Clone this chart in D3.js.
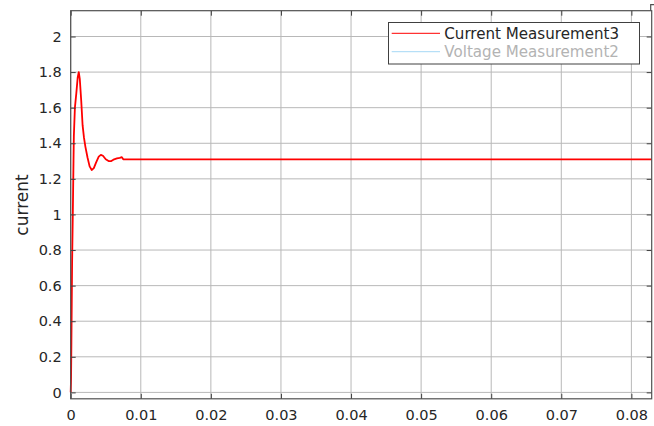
<!DOCTYPE html>
<html><head><meta charset="utf-8">
<script src="https://cdn.jsdelivr.net/npm/d3@7"></script>
<style>
body{margin:0;background:#fff;}
svg{display:block;font-family:"DejaVu Sans",sans-serif;}
</style></head>
<body>
<script>
// time (s) and current values
const timeValues = [0, 0.00005, 0.0001, 0.00015, 0.0002, 0.0003, 0.0004, 0.00045, 0.0006, 0.0008, 0.001, 0.00115, 0.0013, 0.0015, 0.0017, 0.0019, 0.0021, 0.0024, 0.0027, 0.003, 0.0033, 0.0036, 0.004, 0.0043, 0.0046, 0.005, 0.0054, 0.0058, 0.0062, 0.0066, 0.007, 0.0073, 0.0075, 0.0077, 0.0829];
const currentValues = [0, 0.08, 0.28, 0.5, 0.73, 1.0, 1.3, 1.44, 1.6, 1.68, 1.77, 1.8, 1.76, 1.64, 1.5, 1.43, 1.38, 1.32, 1.27, 1.25, 1.26, 1.29, 1.325, 1.335, 1.33, 1.31, 1.30, 1.3, 1.31, 1.315, 1.318, 1.322, 1.31, 1.31, 1.31];
const xTicks = [0, 0.01, 0.02, 0.03, 0.04, 0.05, 0.06, 0.07, 0.08];
const yTicks = [0, 0.2, 0.4, 0.6, 0.8, 1, 1.2, 1.4, 1.6, 1.8, 2];
const legendLabels = ["Current Measurement3", "Voltage Measurement2"];
const legendColors = ["#ff0000", "#a6d8f5"];
const legendTextColors = ["#262626", "#b3b3b3"];
const yLabel = "current";

const W = 654, H = 426;
const L = 70.7, R = 651.7, T = 10.7, B = 398.8;
const svg = d3.select("body").append("svg").attr("width", W).attr("height", H);
const x = d3.scaleLinear().domain([0, 0.0829]).range([L, R]);
const y = d3.scaleLinear().domain([-0.036, 2.145]).range([B, T]);

// grid
const g = svg.append("g");
g.selectAll(".vg").data(xTicks).join("line")
  .attr("x1", d => x(d)).attr("x2", d => x(d)).attr("y1", T).attr("y2", B)
  .attr("stroke", "#b8b8b8").attr("stroke-width", 1);
g.selectAll(".hg").data(yTicks).join("line")
  .attr("x1", L).attr("x2", R).attr("y1", d => y(d)).attr("y2", d => y(d))
  .attr("stroke", "#b8b8b8").attr("stroke-width", 1);

// data line
const line = d3.line().x((d, i) => x(timeValues[i])).y(d => y(d));
svg.append("path").datum(currentValues).attr("d", line)
  .attr("fill", "none").attr("stroke", "#ff0000").attr("stroke-width", 1.8)
  .attr("stroke-linejoin", "round");

// axes
const fmt = d => d3.format("~g")(d);
const xAxis = d3.axisBottom(x).tickValues(xTicks).tickFormat(fmt).tickSizeInner(-5).tickSizeOuter(0).tickPadding(11);
const yAxis = d3.axisLeft(y).tickValues(yTicks).tickFormat(fmt).tickSizeInner(-5).tickSizeOuter(0).tickPadding(9);
const xTop = d3.axisTop(x).tickValues(xTicks).tickFormat("").tickSizeInner(-5).tickSizeOuter(0);
const yRight = d3.axisRight(y).tickValues(yTicks).tickFormat("").tickSizeInner(-5).tickSizeOuter(0);

function style(sel){
  sel.select(".domain").remove();
  sel.selectAll("line").attr("stroke", "#404040");
  sel.selectAll("text").attr("fill", "#262626").style("font-size", "14.5px").style("font-family", "DejaVu Sans");
}
svg.append("g").attr("transform", `translate(0,${B})`).call(xAxis).call(style);
svg.append("g").attr("transform", `translate(${L},0)`).call(yAxis).call(style);
svg.append("g").attr("transform", `translate(0,${T})`).call(xTop).call(style);
svg.append("g").attr("transform", `translate(${R},0)`).call(yRight).call(style);

// frame
svg.append("rect").attr("x", L).attr("y", T).attr("width", R - L).attr("height", B - T)
  .attr("fill", "none").attr("stroke", "#505050").attr("stroke-width", 1.2);
// small corner mark
svg.append("path").attr("d", `M${R-1},${T} V${T-6} H${R+3}`).attr("fill","none").attr("stroke","#505050").attr("stroke-width",1.2);

// y label
svg.append("text").attr("transform", `translate(28,205) rotate(-90)`)
  .attr("text-anchor", "middle").attr("fill", "#262626")
  .style("font-size", "17px").text(yLabel);

// legend
const lg = svg.append("g");
lg.append("rect").attr("x", 388.5).attr("y", 22.5).attr("width", 251).attr("height", 41.5)
  .attr("fill", "#fff").attr("stroke", "#404040").attr("stroke-width", 1);
const rows = [33.3, 51.7];
lg.selectAll(".ll").data(legendLabels).join("line")
  .attr("x1", 391.7).attr("x2", 440).attr("y1", (d, i) => rows[i]).attr("y2", (d, i) => rows[i])
  .attr("stroke", (d, i) => legendColors[i]).attr("stroke-width", 1);
lg.selectAll(".lt").data(legendLabels).join("text")
  .attr("x", 444.3).attr("y", (d, i) => rows[i] + 5.4)
  .attr("fill", (d, i) => legendTextColors[i]).style("font-size", "15.1px").text(d => d);
</script>
</body></html>
